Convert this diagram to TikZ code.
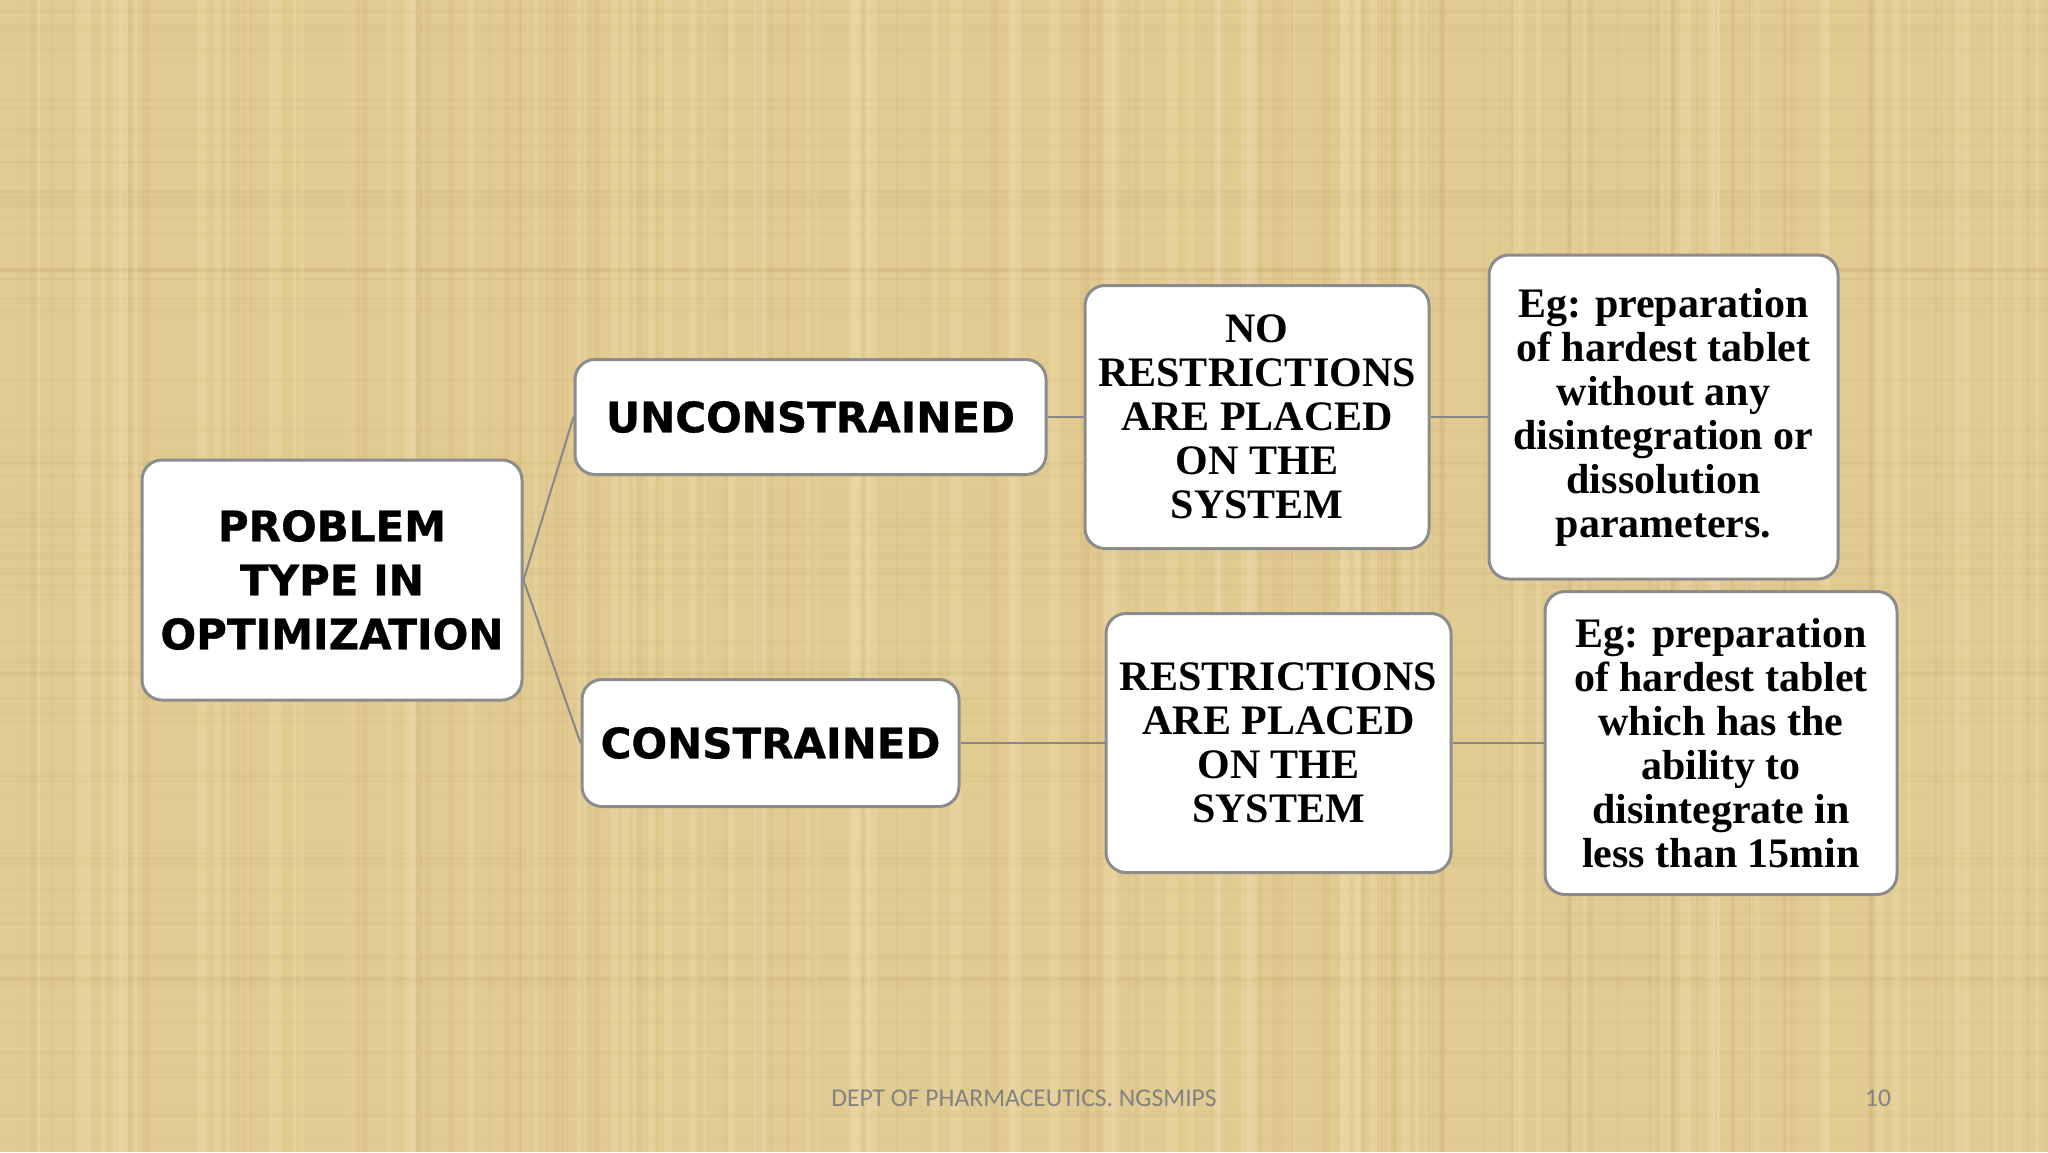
\documentclass[tikz,border=0pt]{standalone}
\usepackage{fontspec}
\usetikzlibrary{trees}
\newfontfamily\headfont{DejaVu Sans}[BoldFeatures={FakeBold=0.8}]
\newfontfamily\bodyfont{Liberation Serif}
\newfontfamily\footfont{Carlito}
\definecolor{paper}{RGB}{226,203,145}
\definecolor{streakdark}{RGB}{178,150,88}
\definecolor{streaklight}{RGB}{246,232,196}
\definecolor{boxgray}{RGB}{140,140,140}
\definecolor{linegray}{RGB}{135,135,135}
\definecolor{footgray}{RGB}{130,130,130}
\tikzset{
  sansbox/.style={draw=boxgray, line width=1.5pt, fill=white, rounded corners=10pt,
    inner sep=0pt, align=center, font=\headfont\bfseries\fontsize{21}{27}\selectfont},
  serifbox/.style={draw=boxgray, line width=1.5pt, fill=white, rounded corners=10pt,
    inner sep=0pt, align=center, font=\bodyfont\bfseries\fontsize{21}{22}\selectfont},
  footer/.style={text=footgray, font=\footfont\fontsize{12.8}{15}\selectfont}
}
\begin{document}
\begin{tikzpicture}[x=1pt, y=1pt,
    grow'=right,
    edge from parent/.style={draw=linegray, line width=1pt},
    edge from parent path={(\tikzparentnode.east) -- (\tikzchildnode.west)},
    level 1/.style={level distance=229pt, sibling distance=163pt},
    level 2/.style={level distance=239pt},
    level 3/.style={level distance=212pt}]
\useasboundingbox (0,0) rectangle (1024,-576);
% paper background, streaks drawn at random
\fill[paper] (0,0) rectangle (1024,-576);
\pgfmathsetseed{17}
\foreach \k in {1,...,120}{
  \pgfmathsetmacro{\xa}{1024*rnd}
  \pgfmathsetmacro{\wa}{0.4+2.5*rnd}
  \draw[streakdark, line width=\wa pt, opacity=0.1] (\xa,0) -- (\xa,-576);
}
\foreach \k in {1,...,90}{
  \pgfmathsetmacro{\ya}{-576*rnd}
  \pgfmathsetmacro{\wa}{0.4+2*rnd}
  \draw[streakdark, line width=\wa pt, opacity=0.07] (0,\ya) -- (1024,\ya);
}
\foreach \k in {1,...,80}{
  \pgfmathsetmacro{\xa}{1024*rnd}
  \pgfmathsetmacro{\wa}{1+5*rnd}
  \draw[streaklight, line width=\wa pt, opacity=0.2] (\xa,0) -- (\xa,-576);
}
% Root of the tree, each child grows to the right;
% the xshifts add up down a branch, they line the boxes up like the slide.
\node[sansbox, minimum width=190pt, minimum height=120pt] (root) at (166,-290)
    {PROBLEM\\TYPE IN\\OPTIMIZATION}
    child{
        node[sansbox, xshift=10.25pt, minimum width=235.5pt, minimum height=57.5pt] (unc)
            {UNCONSTRAINED}
        child{
            node[serifbox, xshift=-15.75pt, minimum width=172pt, minimum height=131.5pt] (nores)
                {NO\\RESTRICTIONS\\ARE PLACED\\ON THE\\SYSTEM}
            child{
                node[serifbox, xshift=-8.75pt, minimum width=174.5pt, minimum height=162pt] (egone)
                    {Eg: preparation\\of hardest tablet\\without any\\disintegration or\\dissolution\\parameters.}
            }
        }
    }
    child{
        node[sansbox, xshift=-9.75pt, minimum width=188.5pt, minimum height=63.5pt] (con)
            {CONSTRAINED}
        child{
            node[serifbox, xshift=15pt, minimum width=172.5pt, minimum height=129.5pt] (res)
                {RESTRICTIONS\\ARE PLACED\\ON THE\\SYSTEM}
            child{
                node[serifbox, xshift=9.25pt, minimum width=176pt, minimum height=151.5pt] (egtwo)
                    {Eg: preparation\\of hardest tablet\\which has the\\ability to\\disintegrate in\\less than 15min}
            }
        }
    };
%Slide footer
\node[footer] (dept) at (512,-549) {DEPT OF PHARMACEUTICS. NGSMIPS};
\node[footer] (pageno) at (939,-549) {10};
\end{tikzpicture}
\end{document}
